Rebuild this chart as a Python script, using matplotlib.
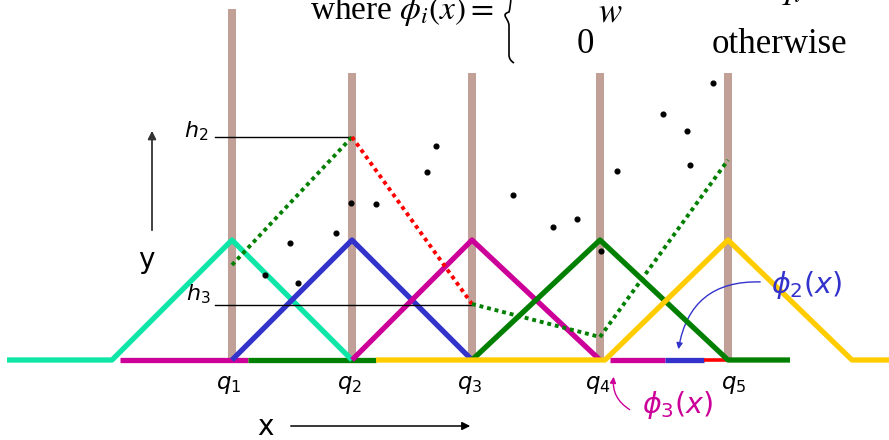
import matplotlib
matplotlib.use("Agg")
import matplotlib.pyplot as plt
import numpy as np
from matplotlib.patches import FancyArrowPatch, PathPatch
from matplotlib.path import Path

# picture is drawn in pixel units (x to the right, y downward)
W, H = 889, 440

# knots q1..q5 and the brown bars
knot_x = [232, 352, 472, 600, 728]
bar_top = [9, 73, 73, 73, 73]
base_y = 360
peak_y = 240

# hat functions (x, y vertices)
cyan_x = [7, 112, 232, 352];        cyan_y = [360, 360, 240, 360]
blue_x = [232, 352, 472];           blue_y = [360, 240, 360]
mag_x = [352, 472, 600];            mag_y = [360, 240, 360]
green_x = [472, 600, 728, 790];     green_y = [360, 240, 360, 360]
yellow_x = [376, 605, 728, 852, 889]; yellow_y = [360, 360, 240, 360, 360]

# coloured pieces lying on the baseline
base_segs = [([120, 248], "#cc0099", 3.8),
             ([248, 376], "#007f00", 3.8),
             ([610, 665], "#cc0099", 3.8),
             ([665, 704], "#3333cc", 3.8),
             ([704, 727], "#ff0000", 2.6)]

# piecewise linear interpolant (dotted)
interp_x = [232, 352, 472, 600, 728]
interp_y = [265, 137, 304, 337, 160]
interp_col = ["#007f00", "#ff0000", "#007f00", "#007f00"]

# data points
pts_x = [265, 290, 298, 336, 351, 376, 427, 436, 513, 553, 577, 601, 617, 663, 687, 690, 713]
pts_y = [275, 243, 283, 233, 203, 204, 172, 146, 195, 227, 219, 251, 171, 114, 131, 165, 83]

q_labels = [r"$\mathit{q_1}$", r"$\mathit{q_2}$", r"$\mathit{q_3}$", r"$\mathit{q_4}$", r"$\mathit{q_5}$"]
q_label_x = [229, 350, 470, 598, 734]

fig = plt.figure(figsize=(W / 100, H / 100), dpi=100)
ax = fig.add_axes([0, 0, 1, 1])
ax.set_xlim(0, W)
ax.set_ylim(H, 0)
ax.axis("off")

# brown bars at the knots
for x, t in zip(knot_x, bar_top):
    ax.plot([x, x], [t, base_y], color="#c0a097", lw=5.8, solid_capstyle="butt", zorder=1)

# baseline pieces
for xs, c, lw in base_segs:
    ax.plot(xs, [base_y, base_y], color=c, lw=lw, solid_capstyle="butt", zorder=2)

# hats
for xs, ys, c in [(cyan_x, cyan_y, "#0ce6a6"), (blue_x, blue_y, "#3333cc"),
                  (mag_x, mag_y, "#cc0099"), (green_x, green_y, "#007f00"),
                  (yellow_x, yellow_y, "#ffcc00")]:
    ax.plot(xs, ys, color=c, lw=3.8, solid_capstyle="butt", zorder=3)

# h2, h3 guide lines
ax.plot([215, knot_x[1]], [interp_y[1], interp_y[1]], color="black", lw=1.0, zorder=4)
ax.plot([215, knot_x[2]], [305, 305], color="black", lw=1.0, zorder=4)

# dotted interpolant
for i, c in enumerate(interp_col):
    ax.plot(interp_x[i:i + 2], interp_y[i:i + 2], color=c, lw=2.8,
            linestyle=(0, (1, 1)), zorder=5)

ax.plot(pts_x, pts_y, "o", color="black", ms=3.4, zorder=6)

# labels
sans = dict(family="DejaVu Sans", math_fontfamily="dejavusans")
for lab, x in zip(q_labels, q_label_x):
    ax.text(x, 389, lab, ha="center", va="baseline", fontsize=16.5, **sans)
ax.text(184, 137, r"$\mathit{h_2}$", ha="left", va="baseline", fontsize=16, **sans)
ax.text(186, 300, r"$\mathit{h_3}$", ha="left", va="baseline", fontsize=16, **sans)
ax.text(146, 268, "y", ha="center", va="baseline", fontsize=20, family="DejaVu Sans")
ax.text(265, 435, "x", ha="center", va="baseline", fontsize=20, family="DejaVu Sans")

ax.annotate("", xy=(152, 128), xytext=(152, 233),
            arrowprops=dict(arrowstyle="-|>", color="#333333", lw=1.3, mutation_scale=12))
ax.annotate("", xy=(473, 426), xytext=(288, 426),
            arrowprops=dict(arrowstyle="-|>", color="black", lw=1.1, mutation_scale=12))

# phi labels with curved arrows
ax.text(642, 405, r"$\mathit{\phi_3(x)}$", color="#cc0099", ha="left", va="center",
        fontsize=20.5, **sans)
ax.add_patch(FancyArrowPatch((632, 411), (614, 374), connectionstyle="arc3,rad=-0.35",
                             arrowstyle="-|>", color="#cc0099", lw=1.0, mutation_scale=9))
ax.text(771, 285, r"$\mathit{\phi_2(x)}$", color="#3333cc", ha="left", va="center",
        fontsize=20.5, **sans)
ax.add_patch(FancyArrowPatch((763, 282), (678, 352), connectionstyle="arc3,rad=0.45",
                             arrowstyle="-|>", color="#3333cc", lw=1.0, mutation_scale=9))

# formula at the top (cut off by the frame)
serif = dict(family="Liberation Serif", math_fontfamily="stix", fontsize=25)
ax.text(310, 19, r"where $\phi_i(x) =$", ha="left", va="baseline",
        family="Liberation Serif", math_fontfamily="stix", fontsize=24)
ax.text(598, 22, r"$w$", ha="left", va="baseline", **serif)
ax.text(577, 53, "0", ha="left", va="baseline", **serif)
ax.text(712, 53, "otherwise", ha="left", va="baseline", **serif)
ax.text(716, -2, r"$|$", ha="left", va="baseline", **serif)
ax.text(776, -2, r"$q_i|$", ha="left", va="baseline", **serif)

brace = Path([(513, -30), (511, -5), (511, 5), (509, 12), (500, 15),
              (509, 18), (509, 26), (509, 35), (509, 55), (509, 60), (514, 63)],
             [Path.MOVETO, Path.CURVE4, Path.CURVE4, Path.CURVE4, Path.CURVE4,
              Path.CURVE4, Path.CURVE4, Path.LINETO, Path.LINETO, Path.CURVE3, Path.CURVE3])
ax.add_patch(PathPatch(brace, fill=False, lw=1.2, color="black"))

fig.savefig("out.png", dpi=100)
